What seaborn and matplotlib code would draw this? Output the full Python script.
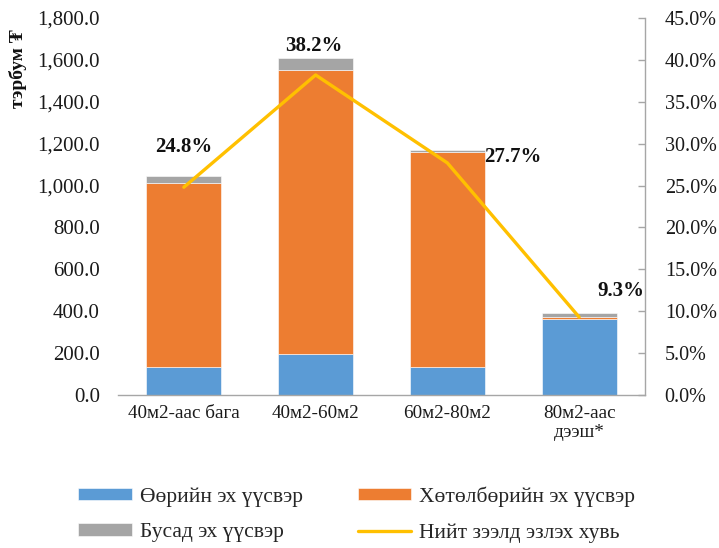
import matplotlib
matplotlib.use("Agg")
import matplotlib.pyplot as plt
import matplotlib.ticker as mticker
import numpy as np
import pandas as pd
import seaborn as sns

categories = ["40м2-аас бага", "40м2-60м2", "60м2-80м2", "80м2-аас\nдээш*"]
own_source = [132, 198, 135, 362]
program_source = [880, 1352, 1026, 10]
other_source = [34, 57, 8, 20]
loan_share = [24.8, 38.2, 27.7, 9.3]

series_names = ["Өөрийн эх үүсвэр", "Хөтөлбөрийн эх үүсвэр", "Бусад эх үүсвэр", "Нийт зээлд эзлэх хувь"]
colors = ["#5B9BD5", "#ED7D31", "#A5A5A5", "#FFC000"]

sns.set_theme(style="white")
plt.rcParams["font.family"] = ["Liberation Serif", "DejaVu Serif"]

df = pd.DataFrame({
    "cat": categories,
    "own": own_source,
    "prog": program_source,
    "other": other_source,
    "share": loan_share,
})

fig = plt.figure(figsize=(7.19, 5.48), dpi=100)
ax = fig.add_axes([118 / 719, 1 - 395 / 548, (645 - 118) / 719, (395 - 18) / 548])

bottom1 = np.array(own_source, dtype=float)
bottom2 = bottom1 + np.array(program_source, dtype=float)

bw = 0.57
sns.barplot(data=df, x="cat", y="own", color=colors[0], width=bw, ax=ax,
            label=series_names[0], edgecolor="white", linewidth=0.4, saturation=1)
sns.barplot(data=df, x="cat", y="prog", bottom=bottom1, color=colors[1], width=bw, ax=ax,
            label=series_names[1], edgecolor="white", linewidth=0.4, saturation=1)
sns.barplot(data=df, x="cat", y="other", bottom=bottom2, color=colors[2], width=bw, ax=ax,
            label=series_names[2], edgecolor="white", linewidth=0.4, saturation=1)

ax.set_xlim(-0.5, 3.5)
ax.set_ylim(0, 1800)
ax.yaxis.set_major_locator(mticker.MultipleLocator(200))
ax.yaxis.set_major_formatter(mticker.FuncFormatter(lambda v, p: f"{v:,.1f}"))
ax.set_xlabel("")
ax.set_ylabel("")
ax.tick_params(axis="y", length=0, pad=13, labelsize=15, labelcolor="#1a1a1a")
ax.tick_params(axis="x", length=0, pad=7, labelsize=13.8, labelcolor="#1a1a1a")
for s in ["top", "left", "right"]:
    ax.spines[s].set_visible(False)
ax.spines["bottom"].set_color("#A6A6A6")
ax.spines["bottom"].set_linewidth(1.0)

ax2 = ax.twinx()
sns.lineplot(data=df, x="cat", y="share", ax=ax2, color=colors[3], linewidth=2.4,
             sort=False, label=series_names[3], solid_capstyle="round")
ax2.set_ylim(0, 45)
ax2.yaxis.set_major_locator(mticker.MultipleLocator(5))
ax2.yaxis.set_major_formatter(mticker.FuncFormatter(lambda v, p: f"{v:.1f}%"))
ax2.set_ylabel("")
ax2.tick_params(axis="y", which="major", direction="in", length=5, width=1,
                color="#A6A6A6", pad=14.2, labelsize=14.5, labelcolor="#1a1a1a")
for s in ["top", "left", "bottom"]:
    ax2.spines[s].set_visible(False)
ax2.spines["right"].set_color("#A6A6A6")
ax2.spines["right"].set_linewidth(1.0)
if ax2.get_legend() is not None:
    ax2.get_legend().remove()
if ax.get_legend() is not None:
    ax.get_legend().remove()

label_offsets = [(0, 29), (-1, 21), (47, 4), (30, 19)]
for i, (v, off) in enumerate(zip(loan_share, label_offsets)):
    ax2.annotate(f"{v:.1f}%", xy=(i, v), xytext=off, textcoords="offset points",
                 ha="center", va="center", fontsize=15, fontweight="bold", color="#111111")

fig.text(0.025, 1 - 29 / 548, "тэрбум ₮", rotation=90, ha="center", va="top",
         fontsize=14, fontweight="bold", color="#111111")

h1, l1 = ax.get_legend_handles_labels()
h2, l2 = ax2.get_legend_handles_labels()
hmap = dict(zip(l1 + l2, h1 + h2))
order = [series_names[0], series_names[2], series_names[1], series_names[3]]
fig.legend([hmap[k] for k in order], order, loc="center",
           bbox_to_anchor=(0.496, 1 - 514.5 / 548), ncol=2, frameon=False,
           fontsize=15.5, handlelength=2.5, handleheight=0.5, handletextpad=0.35,
           columnspacing=2.55, labelspacing=0.75)

fig.savefig("out.png", dpi=100)
